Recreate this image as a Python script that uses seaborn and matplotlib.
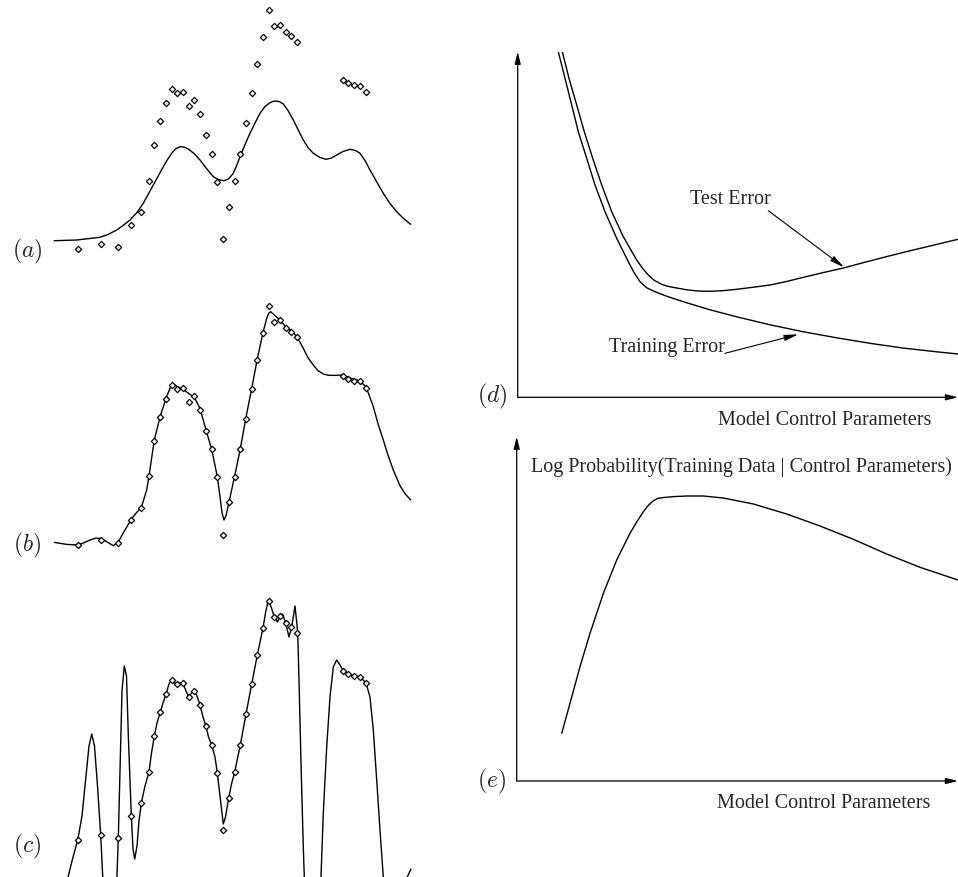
import numpy as np
import pandas as pd
import matplotlib
matplotlib.use("Agg")
import matplotlib.pyplot as plt
import seaborn as sns

sns.set_theme(style="white")
plt.rcParams['font.family'] = ['Liberation Serif', 'DejaVu Serif']
plt.rcParams['mathtext.fontset'] = 'cm'

# --- observed data points (shared by panels a, b, c) ---
pts_x = [77.7, 100.7, 118.0, 131.3, 141.3, 149.0, 154.3, 160.3, 166.0, 171.7,
         177.3, 183.0, 188.7, 194.3, 200.0, 206.0, 211.7, 217.3, 223.0, 228.7,
         234.7, 240.3, 246.0, 251.7, 257.3, 263.0, 268.7, 274.3, 280.0, 285.7,
         291.3, 297.0, 342.7, 348.3, 354.0, 359.7, 365.7]
pts_y = [1.0, 5.7, 3.0, 25.3, 38.0, 69.3, 105.0, 129.0, 146.7, 161.0,
         157.0, 158.0, 144.0, 149.7, 136.0, 114.7, 96.3, 68.3, 10.7, 43.3,
         69.0, 96.3, 127.0, 156.7, 186.0, 213.0, 240.0, 224.0, 225.3, 217.7,
         214.0, 208.3, 170.0, 166.7, 164.7, 164.3, 158.0]

# --- (a) under-fitted curve ---
a_x = [54.3, 76.7, 100, 108, 116.7, 123, 130, 137, 143.3, 153.3, 163.3, 167.5, 171.7,
       175.5, 180, 184, 188.3, 194, 200, 206.5, 213.3, 218.5, 224, 228.5, 233.3,
       236.5, 240, 245, 250, 255, 260, 265, 270, 273, 276, 279.5, 283.3, 288,
       293.3, 298, 303.3, 308, 313.3, 320, 326, 331, 336.7, 343, 350, 355.5, 360,
       365, 370, 376.5, 383.3, 390, 396.7, 403.5, 410.7]
a_y = [9.3, 10, 12.7, 15.5, 20, 24.5, 30, 37.5, 46.7, 65, 83.3, 90.5, 96.7,
       101, 103.3, 103, 101, 96.5, 90, 81.5, 73.3, 70.5, 69.3, 71, 76.7,
       84, 93.3, 105.5, 116.7, 127, 136.7, 143.5, 147.3, 148.6, 149, 148.3, 146, 139.5,
       130, 120.5, 110, 102.5, 96.7, 92.5, 90.7, 91.8, 95, 98.5, 100.7, 99.5, 96.7,
       89.5, 80, 68.5, 56.7, 46.5, 38.3, 31.5, 25.7]

# --- (b) well-fitted curve ---
b_x = [54.3, 66.7, 77.7, 84, 90, 95.5, 100.7, 106.7, 113.3, 118, 125, 131.3, 136,
       141.3, 146.7, 149, 154.3, 160.3, 166, 169, 171.7, 174.5, 177.3, 183, 188.7,
       194.3, 200, 206, 211.7, 217.3, 220, 222, 224, 226, 228.7, 234.7, 240.3,
       246, 251.7, 257.3, 263, 266.7, 268.8, 270.7, 274.3, 280, 285.7, 291.3, 297,
       303.3, 308, 313.3, 318, 323.3, 328, 333.3, 338, 342.7, 348.3, 354, 359.7,
       365.7, 369, 373.3, 378, 383.3, 388, 393.3, 400, 405, 410.7]
b_y = [3.3, 1.3, 0.7, 3, 5.7, 7.5, 7.3, 4, 0, 3.3, 15.7, 26.3, 32.5,
       38.3, 55.7, 69.7, 105.7, 129.7, 147.3, 155, 161.7, 161, 159, 156.3, 152.3,
       148.3, 137.3, 115.7, 96.3, 69, 49, 33, 25.7, 30, 42.3, 69.7, 97,
       128.3, 157.3, 186.7, 213.3, 227.3, 232.5, 234, 230.7, 225.7, 219, 215, 209,
       197.3, 188, 180.7, 175, 171.7, 170.5, 170.3, 170.5, 170.7, 168.3, 166.3, 165,
       159, 151, 139, 122, 105.7, 90.5, 75.7, 60, 52, 45.7]

# --- (c) over-fitted curve ---
c_x = [66, 68.3, 72, 77.7, 82, 86, 89, 91.7, 94.5, 97.5, 100.7, 102.7, 104.5,
       115.5, 117, 118.3, 120, 122, 124.3, 126.5, 128.5, 131.3, 133, 134.7, 137,
       139, 141.3, 145, 149, 151.5, 154.3, 157, 160.3, 163, 166, 169, 171.7,
       174.5, 177.3, 180, 183, 186, 188.7, 191.5, 194.3, 197, 200, 203, 206,
       208.5, 211.7, 215, 217.3, 220, 223.3, 225.5, 228.7, 231.5, 234.7, 240.3,
       246, 251.7, 257.3, 263, 265.5, 268.3, 271.5, 274.3, 277.5, 280, 282.5,
       285.7, 289, 291.7, 295, 297.7, 299, 301, 303.3, 304.3, 305.5,
       319.5, 321, 323.3, 326.7, 330, 333.3, 336.7, 340, 343.3, 349, 354.7,
       360.3, 366, 370, 373.3, 376.7, 380, 383.3, 384.5, 396, 411]
c_y = [-45, -35, -20, 1, 25, 65, 95, 107, 95, 55, 6, -35, -60,
       -60, -35, 3, 70, 150, 175, 165, 100, 26, -8, -18, -5,
       20, 38, 55, 69, 88, 105, 118, 129, 138, 147, 157, 161,
       158, 157, 158, 158, 150, 144, 148, 150, 145, 136, 124, 114.7,
       104, 96, 84, 68, 45, 17, 24, 43, 57, 69, 96,
       127, 157, 186, 213, 228, 241, 233, 224, 219, 225, 227,
       218, 204, 214, 235, 209, 161, 78, -6, -36, -60,
       -60, -36, 28, 94, 144, 174, 181, 176, 170, 167, 165,
       164, 158, 144, 111, 61, 11, -36, -60, -60, -28]

# --- (d) error curves ---
train_x = [40.6, 47.3, 54, 60.6, 69, 77.3, 87.3, 99, 110.6, 116.5, 122.3, 129, 137.3,
           147, 157.3, 169, 192.3, 219, 252.3, 285.7, 319, 352.3, 385.7, 419, 440.3]
train_y = [345.6, 319, 292.3, 265.6, 239, 212.3, 185.6, 159, 135.6, 124.5, 115.6, 109.5, 105.6,
           101.8, 98.3, 94.5, 87.5, 80.5, 72.5, 65.5, 59.5, 54, 49.2, 45.5, 43.3]
test_x = [44.6, 51.3, 59, 66.6, 75, 84, 94, 105.6, 119, 125, 130.6, 136.5, 144,
          150, 157.3, 169, 180, 192.3, 205, 219, 235, 252.3, 268, 285.7, 305,
          325.7, 347, 369, 390, 412.3, 440.3]
test_y = [345.6, 319, 292.3, 265.6, 239, 212.3, 185.6, 160.6, 137.3, 128.8, 122.3, 117, 113,
          111, 109.6, 107.5, 106.3, 106, 106.6, 108, 110, 112.3, 115.6, 120, 124.6,
          129.3, 135, 140.7, 146, 151.3, 158]

# --- (e) log probability curve ---
logp_x = [45, 53.3, 63.3, 73.3, 86.7, 100, 113.3, 120, 126.7, 131.5, 136.7, 141, 145,
          157, 170, 186.7, 206.7, 236.7, 270, 303.3, 336.7, 370, 403.3, 441.3]
logp_y = [47.7, 77.7, 114.3, 147.7, 187.7, 221, 247.7, 259, 269.3, 275.5, 280.3, 282.6, 283.3,
          284.4, 285, 285, 283, 277, 267, 255, 241.7, 227, 213.7, 201]

W, H = 958, 877
fig = plt.figure(figsize=(W / 100, H / 100), dpi=100)


def box(left, top, w, h):
    return [left / W, 1 - (top + h) / H, w / W, h / H]


pts = pd.DataFrame({'x': pts_x, 'y': pts_y})
curves = {'a': (a_x, a_y), 'b': (b_x, b_y), 'c': (c_x, c_y)}
tops = {'a': 0, 'b': 295.7, 'c': 591}
lab_y = {'a': -1.7, 'b': 0.7, 'c': -5.7}

for key in ['a', 'b', 'c']:
    ax = fig.add_axes(box(0, tops[key], 420, 286))
    cx, cy = curves[key]
    sns.lineplot(x=cx, y=cy, sort=False, estimator=None, color='black', lw=1.0, ax=ax)
    sns.scatterplot(data=pts, x='x', y='y', marker='D', s=10, facecolor='white',
                    edgecolor='black', linewidth=0.9, zorder=3, ax=ax)
    ax.text(27.5, lab_y[key], f'$({key})$', fontsize=17, ha='center', va='center')
    ax.set_xlim(0, 420)
    ax.set_ylim(-36, 250)
    ax.set_axis_off()

arrow_axis = dict(arrowstyle='-|>,head_length=0.6,head_width=0.15', color='black',
                  lw=0.9, shrinkA=0, shrinkB=0)
arrow_note = dict(arrowstyle='-|>,head_length=0.7,head_width=0.15', color='black',
                  lw=0.8, shrinkA=0, shrinkB=0)

# (d)
axd = fig.add_axes(box(517.7, 51.7, 440.3, 345.6))
sns.lineplot(x=test_x, y=test_y, sort=False, estimator=None, color='black', lw=1.0, ax=axd)
sns.lineplot(x=train_x, y=train_y, sort=False, estimator=None, color='black', lw=1.0, ax=axd)
axd.set_xlim(0, 440.3)
axd.set_ylim(0, 345.6)
axd.text(212.3, 198, 'Test Error', fontsize=14.5, ha='center', va='center')
axd.annotate('', xy=(326.3, 130), xytext=(250.6, 186.6), arrowprops=arrow_note)
axd.text(149, 50, 'Training Error', fontsize=14.5, ha='center', va='center')
axd.annotate('', xy=(280.6, 63), xytext=(207.3, 44), arrowprops=arrow_note)
axd.text(307.3, -23, 'Model Control Parameters', fontsize=14.5, ha='center', va='center')
axd.text(-26, 0.6, '$(d)$', fontsize=17, ha='center', va='center')

# (e)
axe = fig.add_axes(box(516.7, 436.7, 441.3, 344.3))
sns.lineplot(x=logp_x, y=logp_y, sort=False, estimator=None, color='black', lw=1.0, ax=axe)
axe.set_xlim(0, 441.3)
axe.set_ylim(0, 344.3)
axe.text(225, 313.7, 'Log Probability(Training Data | Control Parameters)', fontsize=14.5,
         ha='center', va='center')
axe.text(306.6, -23, 'Model Control Parameters', fontsize=14.5, ha='center', va='center')
axe.text(-25, -0.7, '$(e)$', fontsize=17, ha='center', va='center')

for ax in [axd, axe]:
    ax.set_axis_off()
    ax.annotate('', xy=(1, 0), xytext=(0, 0), xycoords='axes fraction',
                arrowprops=arrow_axis, annotation_clip=False)
    ax.annotate('', xy=(0, 1), xytext=(0, 0), xycoords='axes fraction',
                arrowprops=arrow_axis, annotation_clip=False)
    for t in ax.texts:
        t.set_clip_on(False)

fig.savefig('out.png', dpi=100, facecolor='white')
